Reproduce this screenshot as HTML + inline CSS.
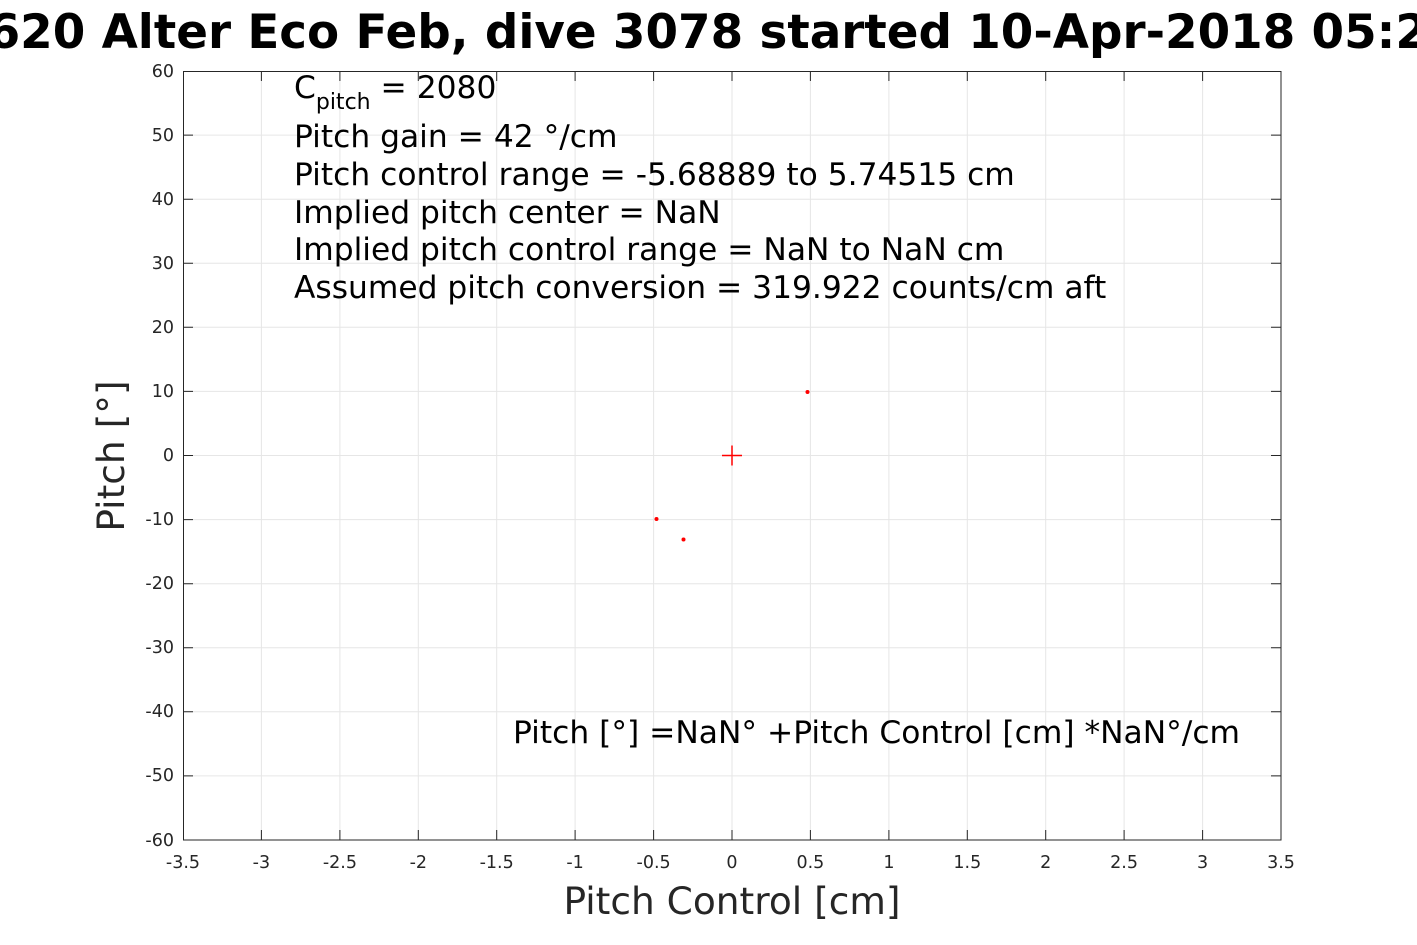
<!DOCTYPE html>
<html><head><meta charset="utf-8"><style>
html,body{margin:0;padding:0;background:#fff;overflow:hidden}
svg{display:block}
text{font-family:"DejaVu Sans","Liberation Sans",sans-serif}
</style></head><body>
<svg width="1417" height="945" viewBox="0 0 1417 945" xmlns="http://www.w3.org/2000/svg">
<rect width="1417" height="945" fill="#fff"/>
<g stroke="#e6e6e6" stroke-width="1">
<line x1="261.4" y1="71" x2="261.4" y2="840"/><line x1="339.9" y1="71" x2="339.9" y2="840"/>
<line x1="418.3" y1="71" x2="418.3" y2="840"/><line x1="496.7" y1="71" x2="496.7" y2="840"/>
<line x1="575.1" y1="71" x2="575.1" y2="840"/><line x1="653.6" y1="71" x2="653.6" y2="840"/>
<line x1="732" y1="71" x2="732" y2="840"/><line x1="810.4" y1="71" x2="810.4" y2="840"/>
<line x1="888.9" y1="71" x2="888.9" y2="840"/><line x1="967.3" y1="71" x2="967.3" y2="840"/>
<line x1="1045.7" y1="71" x2="1045.7" y2="840"/><line x1="1124.1" y1="71" x2="1124.1" y2="840"/>
<line x1="1202.6" y1="71" x2="1202.6" y2="840"/>
<line x1="183" y1="135.1" x2="1281" y2="135.1"/><line x1="183" y1="199.2" x2="1281" y2="199.2"/>
<line x1="183" y1="263.3" x2="1281" y2="263.3"/><line x1="183" y1="327.3" x2="1281" y2="327.3"/>
<line x1="183" y1="391.4" x2="1281" y2="391.4"/><line x1="183" y1="455.5" x2="1281" y2="455.5"/>
<line x1="183" y1="519.6" x2="1281" y2="519.6"/><line x1="183" y1="583.7" x2="1281" y2="583.7"/>
<line x1="183" y1="647.8" x2="1281" y2="647.8"/><line x1="183" y1="711.8" x2="1281" y2="711.8"/>
<line x1="183" y1="775.9" x2="1281" y2="775.9"/>
</g>
<rect x="183.5" y="71.5" width="1097.5" height="768.5" fill="none" stroke="#262626" stroke-width="1"/>
<g stroke="#262626" stroke-width="1">
<path d="M261.4 840v-10M339.9 840v-10M418.3 840v-10M496.7 840v-10M575.1 840v-10M653.6 840v-10M732 840v-10M810.4 840v-10M888.9 840v-10M967.3 840v-10M1045.7 840v-10M1124.1 840v-10M1202.6 840v-10"/>
<path d="M261.4 71v10M339.9 71v10M418.3 71v10M496.7 71v10M575.1 71v10M653.6 71v10M732 71v10M810.4 71v10M888.9 71v10M967.3 71v10M1045.7 71v10M1124.1 71v10M1202.6 71v10"/>
<path d="M183 135.1h10M183 199.2h10M183 263.3h10M183 327.3h10M183 391.4h10M183 455.5h10M183 519.6h10M183 583.7h10M183 647.8h10M183 711.8h10M183 775.9h10"/>
<path d="M1281 135.1h-10M1281 199.2h-10M1281 263.3h-10M1281 327.3h-10M1281 391.4h-10M1281 455.5h-10M1281 519.6h-10M1281 583.7h-10M1281 647.8h-10M1281 711.8h-10M1281 775.9h-10"/>
</g>
<g font-size="17.5" fill="#262626" text-anchor="middle">
<text x="183" y="868">-3.5</text><text x="261.4" y="868">-3</text><text x="339.9" y="868">-2.5</text>
<text x="418.3" y="868">-2</text><text x="496.7" y="868">-1.5</text><text x="575.1" y="868">-1</text>
<text x="653.6" y="868">-0.5</text><text x="732" y="868">0</text><text x="810.4" y="868">0.5</text>
<text x="888.9" y="868">1</text><text x="967.3" y="868">1.5</text><text x="1045.7" y="868">2</text>
<text x="1124.1" y="868">2.5</text><text x="1202.6" y="868">3</text><text x="1281" y="868">3.5</text>
</g>
<g font-size="17.5" fill="#262626" text-anchor="end">
<text x="174" y="77">60</text><text x="174" y="141">50</text><text x="174" y="205">40</text>
<text x="174" y="269">30</text><text x="174" y="333">20</text><text x="174" y="397">10</text>
<text x="174" y="461">0</text><text x="174" y="525">-10</text><text x="174" y="589">-20</text>
<text x="174" y="653">-30</text><text x="174" y="717">-40</text><text x="174" y="781">-50</text>
<text x="174" y="846">-60</text>
</g>
<text x="732" y="914" font-size="37.5" fill="#262626" text-anchor="middle">Pitch Control [cm]</text>
<text transform="translate(124,456) rotate(-90)" font-size="37.5" fill="#262626" text-anchor="middle">Pitch [°]</text>
<text x="688" y="48" font-size="46.8" font-weight="bold" fill="#000" text-anchor="middle">SG620 Alter Eco Feb, dive 3078 started 10-Apr-2018 05:20</text>
<g font-size="31.3" fill="#000">
<text x="294" y="98">C<tspan font-size="22" dy="11">pitch</tspan><tspan dy="-11"> = 2080</tspan></text>
<text x="294" y="147">Pitch gain = 42 °/cm</text>
<text x="294" y="185">Pitch control range = -5.68889 to 5.74515 cm</text>
<text x="294" y="223">Implied pitch center = NaN</text>
<text x="294" y="260">Implied pitch control range = NaN to NaN cm</text>
<text x="294" y="298">Assumed pitch conversion = 319.922 counts/cm aft</text>
<text x="513" y="743">Pitch [°] =NaN° +Pitch Control [cm] *NaN°/cm</text>
</g>
<g fill="#f00">
<circle cx="807.5" cy="392" r="2"/><circle cx="656.5" cy="519" r="2"/><circle cx="683.5" cy="539.5" r="2"/>
</g>
<path d="M722 455.5h20M732 445.5v20" stroke="#f00" stroke-width="1.5"/>
</svg>
</body></html>
